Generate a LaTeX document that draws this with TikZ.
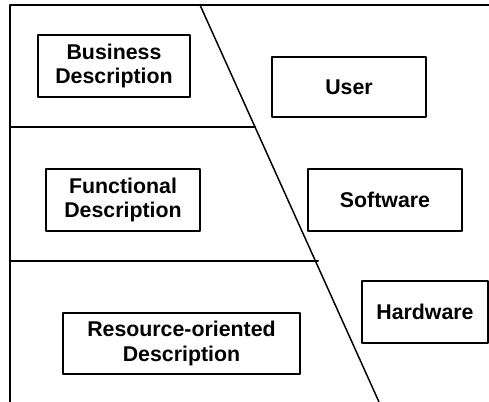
\documentclass[tikz,border=0pt]{standalone}
\usepackage{fontspec}
\setmainfont{Liberation Sans}
\begin{document}
\begin{tikzpicture}[
  x=0.75pt,
  y=-0.75pt,
  line cap=round,
  line join=round,
  descbox/.style={
    draw,
    line width=1.4pt,
    inner sep=0pt,
    minimum height=46.5pt,
    align=center,
    font=\fontsize{16}{18.5}\selectfont\bfseries
  }
]
  \useasboundingbox (0,0) rectangle (489,402);

  \coordinate (T) at (200,5);
  \coordinate (B) at (379,402);

  % Frame
  \draw[line width=1.5pt]
    (489,5) -- (10,5) -- (10,402);

  % Layer borders
  \draw[line width=1.5pt]
    (10,127) -- (255,127);

  \draw[line width=1.5pt]
    (10,261) -- (318,261);

  % Dividing line
  \draw[line width=1.1pt]
    (T) -- (B);

  % Descriptions
  \node[descbox, minimum width=114pt] (business) at (114,66)
    {Business\\Description};
  \node[descbox, minimum width=115.5pt] (functional) at (123,200)
    {Functional\\Description};
  \node[descbox, minimum width=177.75pt, minimum height=45.75pt] (resource) at (181.5,343.5)
    {Resource-oriented\\Description};

  % Systems
  \node[descbox, minimum width=115.5pt, minimum height=45pt] (user) at (349,87)
    {User};
  \node[descbox, minimum width=115.5pt] (software) at (385,200)
    {Software};
  \node[descbox, minimum width=94.5pt] (hardware) at (425,312)
    {Hardware};
\end{tikzpicture}
\end{document}
